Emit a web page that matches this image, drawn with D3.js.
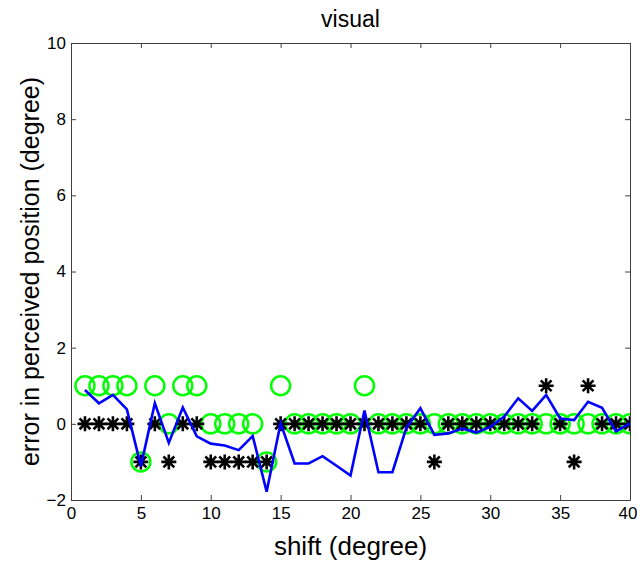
<!DOCTYPE html>
<html>
<head>
<meta charset="utf-8">
<script src="https://cdn.jsdelivr.net/npm/d3@7"></script>
<style>
html,body{margin:0;padding:0;background:#fff;}
svg{display:block;}
text{font-family:"Liberation Sans",Arial,sans-serif;fill:#000;}
</style>
</head>
<body>
<svg id="chart" width="637" height="562"></svg>
<script>
const shifts = [1,2,3,4,5,6,7,8,9,10,11,12,13,14,15,16,17,18,19,20,21,22,23,24,25,26,27,28,29,30,31,32,33,34,35,36,37,38,39,40];
const circleVals = [1,1,1,1,-1,1,0,1,1,0,0,0,0,-1,1,0,0,0,0,0,1,0,0,0,0,0,0,0,0,0,0,0,0,0,0,0,0,0,0,0];
const starVals = [0,0,0,0,-1,0,-1,0,0,-1,-1,-1,-1,-1,0,0,0,0,0,0,0,0,0,0,0,-1,0,0,0,0,0,0,0,1,0,-1,1,0,0,0];
const lineVals = [0.89,0.54,0.76,0.38,-1.11,0.54,-0.5,0.43,-0.33,-0.52,-0.57,-0.69,-0.32,-1.78,0.02,-1.04,-1.04,-0.85,-1.1,-1.36,0.35,-1.27,-1.27,-0.1,0.41,-0.29,-0.25,-0.12,-0.23,-0.08,0.19,0.67,0.34,0.76,0.14,0.1,0.58,0.42,-0.2,0.01];
const xTicks = [0,5,10,15,20,25,30,35,40];
const yTicks = [-2,0,2,4,6,8,10];
const titleText = "visual";
const xLabel = "shift (degree)";
const yLabel = "error in perceived position (degree)";

const svg = d3.select("#chart");
const L = 71, R = 630, T = 43, B = 500;
const x = d3.scaleLinear().domain([0,40]).range([L,R]);
const y = d3.scaleLinear().domain([-2,10]).range([B,T]);
const axisColor = "#404040";

svg.append("defs").append("clipPath").attr("id","clip")
  .append("rect").attr("x",L).attr("y",T).attr("width",R-L).attr("height",B-T);

const gx = svg.append("g").attr("transform",`translate(0,${B})`)
  .call(d3.axisBottom(x).tickValues(xTicks).tickSizeInner(-5).tickSizeOuter(0).tickPadding(7));
const gxTop = svg.append("g").attr("transform",`translate(0,${T})`)
  .call(d3.axisTop(x).tickValues(xTicks).tickSizeInner(-5).tickSizeOuter(0).tickFormat(""));
const gy = svg.append("g").attr("transform",`translate(${L},0)`)
  .call(d3.axisLeft(y).tickValues(yTicks).tickSizeInner(-5).tickSizeOuter(0).tickPadding(5));
const gyR = svg.append("g").attr("transform",`translate(${R},0)`)
  .call(d3.axisRight(y).tickValues(yTicks).tickSizeInner(-5).tickSizeOuter(0).tickFormat(""));
[gx,gxTop,gy,gyR].forEach(g=>{
  g.select(".domain").attr("stroke",axisColor).attr("stroke-width",1);
  g.selectAll(".tick line").attr("stroke",axisColor);
  g.selectAll(".tick text").attr("font-size",17).attr("font-family","Liberation Sans, Arial, sans-serif").attr("fill","#000");
});
gx.selectAll(".tick text").attr("dy","0.71em");
// keep the last x tick label inside the window
gx.selectAll(".tick text").filter(d=>d===40).attr("text-anchor","end").attr("dx",7);

const plot = svg.append("g").attr("clip-path","url(#clip)");

plot.append("g").selectAll("circle").data(shifts).join("circle")
  .attr("cx",(d)=>x(d)).attr("cy",(d,i)=>y(circleVals[i])).attr("r",9.5)
  .attr("fill","none").attr("stroke","#00ff00").attr("stroke-width",2.5);

const arm = 7.5, diag = arm*0.72;
plot.append("g").selectAll("path").data(shifts).join("path")
  .attr("d",(d,i)=>{
    const cx = x(d), cy = y(starVals[i]);
    return `M${cx},${cy-arm}L${cx},${cy+arm}M${cx-arm},${cy}L${cx+arm},${cy}`+
           `M${cx-diag},${cy-diag}L${cx+diag},${cy+diag}M${cx-diag},${cy+diag}L${cx+diag},${cy-diag}`;
  })
  .attr("stroke","#000").attr("stroke-width",2.6).attr("fill","none");

const line = d3.line().x((d)=>x(d)).y((d,i)=>y(lineVals[i]));
plot.append("path").datum(shifts).attr("d",line)
  .attr("fill","none").attr("stroke","#0000ff").attr("stroke-width",2.6).attr("stroke-linejoin","miter");

svg.append("text").attr("x",(L+R)/2).attr("y",27).attr("text-anchor","middle")
  .attr("font-size",23).text(titleText);
svg.append("text").attr("x",(L+R)/2).attr("y",555).attr("text-anchor","middle")
  .attr("font-size",26).text(xLabel);
svg.append("text").attr("transform",`translate(30,${(T+B)/2}) rotate(-90)`).attr("text-anchor","middle")
  .attr("dy","0.35em").attr("font-size",25).text(yLabel);
</script>
</body>
</html>
